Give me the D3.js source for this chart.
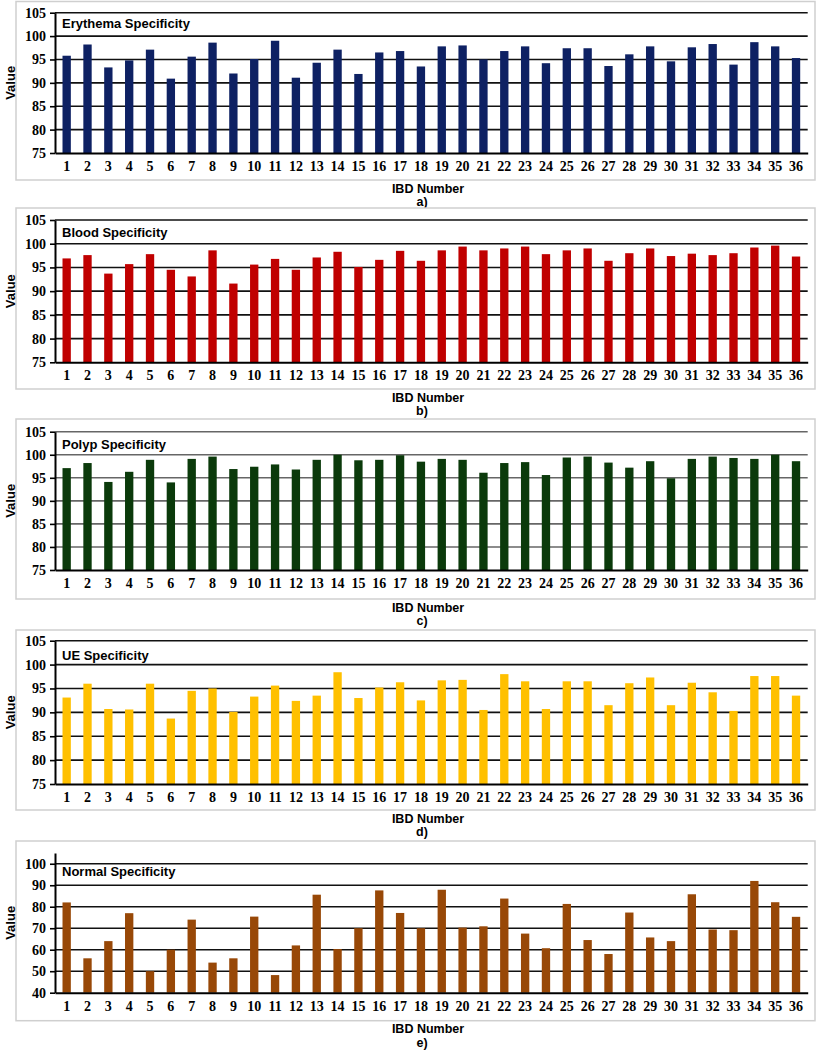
<!DOCTYPE html>
<html>
<head>
<meta charset="utf-8">
<script src="https://cdn.jsdelivr.net/npm/d3@7"></script>
<style>
  html, body { margin: 0; padding: 0; background: #fff; }
  svg { display: block; }
</style>
</head>
<body>
<div id="chart"></div>
<script>
// ---- Data ----
const ibdNumbers = d3.range(1, 37).map(String);

const erythemaValues = [95.8,98.2,93.3,94.8,97.1,90.9,95.6,98.6,92.0,95.1,99.0,91.1,94.3,97.1,91.9,96.5,96.8,93.5,97.8,98.0,95.0,96.8,97.8,94.2,97.4,97.4,93.6,96.1,97.8,94.6,97.6,98.3,93.9,98.7,97.8,95.3];
const bloodValues    = [96.9,97.6,93.7,95.7,97.8,94.5,93.1,98.6,91.6,95.6,96.8,94.5,97.1,98.3,95.1,96.6,98.5,96.4,98.6,99.4,98.6,99.0,99.4,97.8,98.6,99.0,96.4,98.0,99.0,97.4,97.9,97.6,98.0,99.2,99.6,97.3];
const polypValues    = [97.1,98.2,94.1,96.3,98.9,94.0,99.1,99.6,96.9,97.4,97.9,96.8,98.9,100,98.8,98.9,99.9,98.5,99.1,98.9,96.1,98.2,98.4,95.6,99.4,99.6,98.3,97.2,98.6,94.9,99.1,99.6,99.3,99.1,100,98.6];
const ueValues       = [93.1,96.0,90.7,90.6,96.0,88.7,94.5,95.0,90.1,93.3,95.6,92.4,93.5,98.4,93.0,95.2,96.3,92.5,96.7,96.8,90.5,98.0,96.5,90.7,96.5,96.5,91.5,96.1,97.3,91.5,96.2,94.2,90.3,97.6,97.6,93.5];
const normalValues   = [82,56,64,77,50,60,74,54,56,75.4,48.2,62,85.6,60.3,70,87.6,77.1,70,87.9,70.3,70.9,83.8,67.5,60.7,81.3,64.5,58,77.3,65.7,64,85.8,69.4,69.1,92,82.1,75.3];

const highTicks   = [75, 80, 85, 90, 95, 100, 105];
const normalTicks = [40, 50, 60, 70, 80, 90, 100];

const panelTitles = ["Erythema Specificity", "Blood Specificity", "Polyp Specificity", "UE Specificity", "Normal Specificity"];
const panelLabels = ["a)", "b)", "c)", "d)", "e)"];

// ---- Layout / style ----
const W = 818, H = 1050;
const plotLeft = 55, plotRight = 807.7;
const boxLeft = 16, boxRight = 815;

const panels = [
  { values: erythemaValues, color: "#0e2163", domain: [75, 105], ticks: highTicks, top: 12.7, bottom: 153,   boxTop: 1.5,  boxBottom: 180,   grid: "#111", titleDy: 15 },
  { values: bloodValues,    color: "#c00000", domain: [75, 105], ticks: highTicks, top: 220,  bottom: 362.3, boxTop: 208,  boxBottom: 389,   grid: "#111", titleDy: 17 },
  { values: polypValues,    color: "#0b3a0b", domain: [75, 105], ticks: highTicks, top: 431.7,bottom: 570,   boxTop: 419,  boxBottom: 599,   grid: "#666", titleDy: 17.5 },
  { values: ueValues,       color: "#ffc000", domain: [75, 105], ticks: highTicks, top: 640.7,bottom: 784,   boxTop: 630,  boxBottom: 810,   grid: "#111", titleDy: 19 },
  { values: normalValues,   color: "#984807", domain: [40, 105], ticks: normalTicks, top: 853, bottom: 992.7, boxTop: 841,  boxBottom: 1020.7,grid: "#111", titleDy: 23 }
];

const svg = d3.select("#chart").append("svg")
  .attr("width", W).attr("height", H)
  .attr("viewBox", `0 0 ${W} ${H}`);

svg.append("rect").attr("width", W).attr("height", H).attr("fill", "#fff");

const x = d3.scaleBand()
  .domain(ibdNumbers)
  .range([plotLeft, plotRight])
  .paddingInner(0.6)
  .paddingOuter(0.36);

panels.forEach((p, i) => {
  const g = svg.append("g");
  const y = d3.scaleLinear().domain(p.domain).range([p.bottom, p.top]);

  // outer frame
  g.append("rect")
    .attr("x", boxLeft).attr("y", p.boxTop)
    .attr("width", boxRight - boxLeft).attr("height", p.boxBottom - p.boxTop)
    .attr("fill", "#fff").attr("stroke", "#cfcfcf").attr("stroke-width", 1.5);

  // gridlines
  g.append("g").selectAll("line")
    .data(p.ticks.filter(t => t > p.domain[0]))
    .join("line")
    .attr("x1", plotLeft).attr("x2", plotRight)
    .attr("y1", d => y(d)).attr("y2", d => y(d))
    .attr("stroke", p.grid).attr("stroke-width", 1.6);

  // bars
  g.append("g").selectAll("rect")
    .data(p.values)
    .join("rect")
    .attr("x", (d, j) => x(ibdNumbers[j]))
    .attr("width", x.bandwidth())
    .attr("y", d => y(d))
    .attr("height", d => y(p.domain[0]) - y(d))
    .attr("fill", p.color);

  // x axis
  const xAxis = g.append("g")
    .attr("transform", `translate(0,${p.bottom})`)
    .call(d3.axisBottom(x).tickSize(0).tickPadding(8).tickSizeOuter(0));
  xAxis.select(".domain").attr("stroke", "#000").attr("stroke-width", 2);
  xAxis.selectAll("text")
    .attr("font-family", "'Liberation Serif', 'Times New Roman', serif")
    .attr("font-weight", "bold").attr("font-size", 14).attr("fill", "#000");

  // y axis
  const yAxis = g.append("g")
    .attr("transform", `translate(${plotLeft},0)`)
    .call(d3.axisLeft(y).tickValues(p.ticks).tickSize(5).tickPadding(4).tickSizeOuter(0));
  yAxis.select(".domain").attr("stroke", "#000").attr("stroke-width", 2);
  yAxis.selectAll(".tick line").attr("stroke", "#000").attr("stroke-width", 1.6);
  yAxis.selectAll("text")
    .attr("font-family", "'Liberation Serif', 'Times New Roman', serif")
    .attr("font-weight", "bold").attr("font-size", 14).attr("fill", "#000");

  // title inside plot
  g.append("text")
    .attr("x", plotLeft + 7).attr("y", p.top + p.titleDy)
    .attr("font-family", "'Liberation Sans', Arial, sans-serif")
    .attr("font-weight", "bold").attr("font-size", 13)
    .attr("fill", "#000")
    .text(panelTitles[i]);

  // y axis label
  const midY = (p.top + p.bottom) / 2;
  g.append("text")
    .attr("transform", `translate(12,${midY}) rotate(-90)`)
    .attr("text-anchor", "middle")
    .attr("dominant-baseline", "middle")
    .attr("font-family", "'Liberation Sans', Arial, sans-serif")
    .attr("font-weight", "bold").attr("font-size", 13)
    .attr("fill", "#000")
    .text("Value");

  // x axis label
  g.append("text")
    .attr("x", 428).attr("y", p.boxBottom + 12.5)
    .attr("text-anchor", "middle")
    .attr("font-family", "'Liberation Sans', Arial, sans-serif")
    .attr("font-weight", "bold").attr("font-size", 12.5)
    .attr("fill", "#000")
    .text("IBD Number");

  // panel label
  g.append("text")
    .attr("x", 422).attr("y", p.boxBottom + 26.3)
    .attr("text-anchor", "middle")
    .attr("font-family", "'Liberation Sans', Arial, sans-serif")
    .attr("font-weight", "bold").attr("font-size", 12.5)
    .attr("fill", "#000")
    .text(panelLabels[i]);
});
</script>
</body>
</html>
